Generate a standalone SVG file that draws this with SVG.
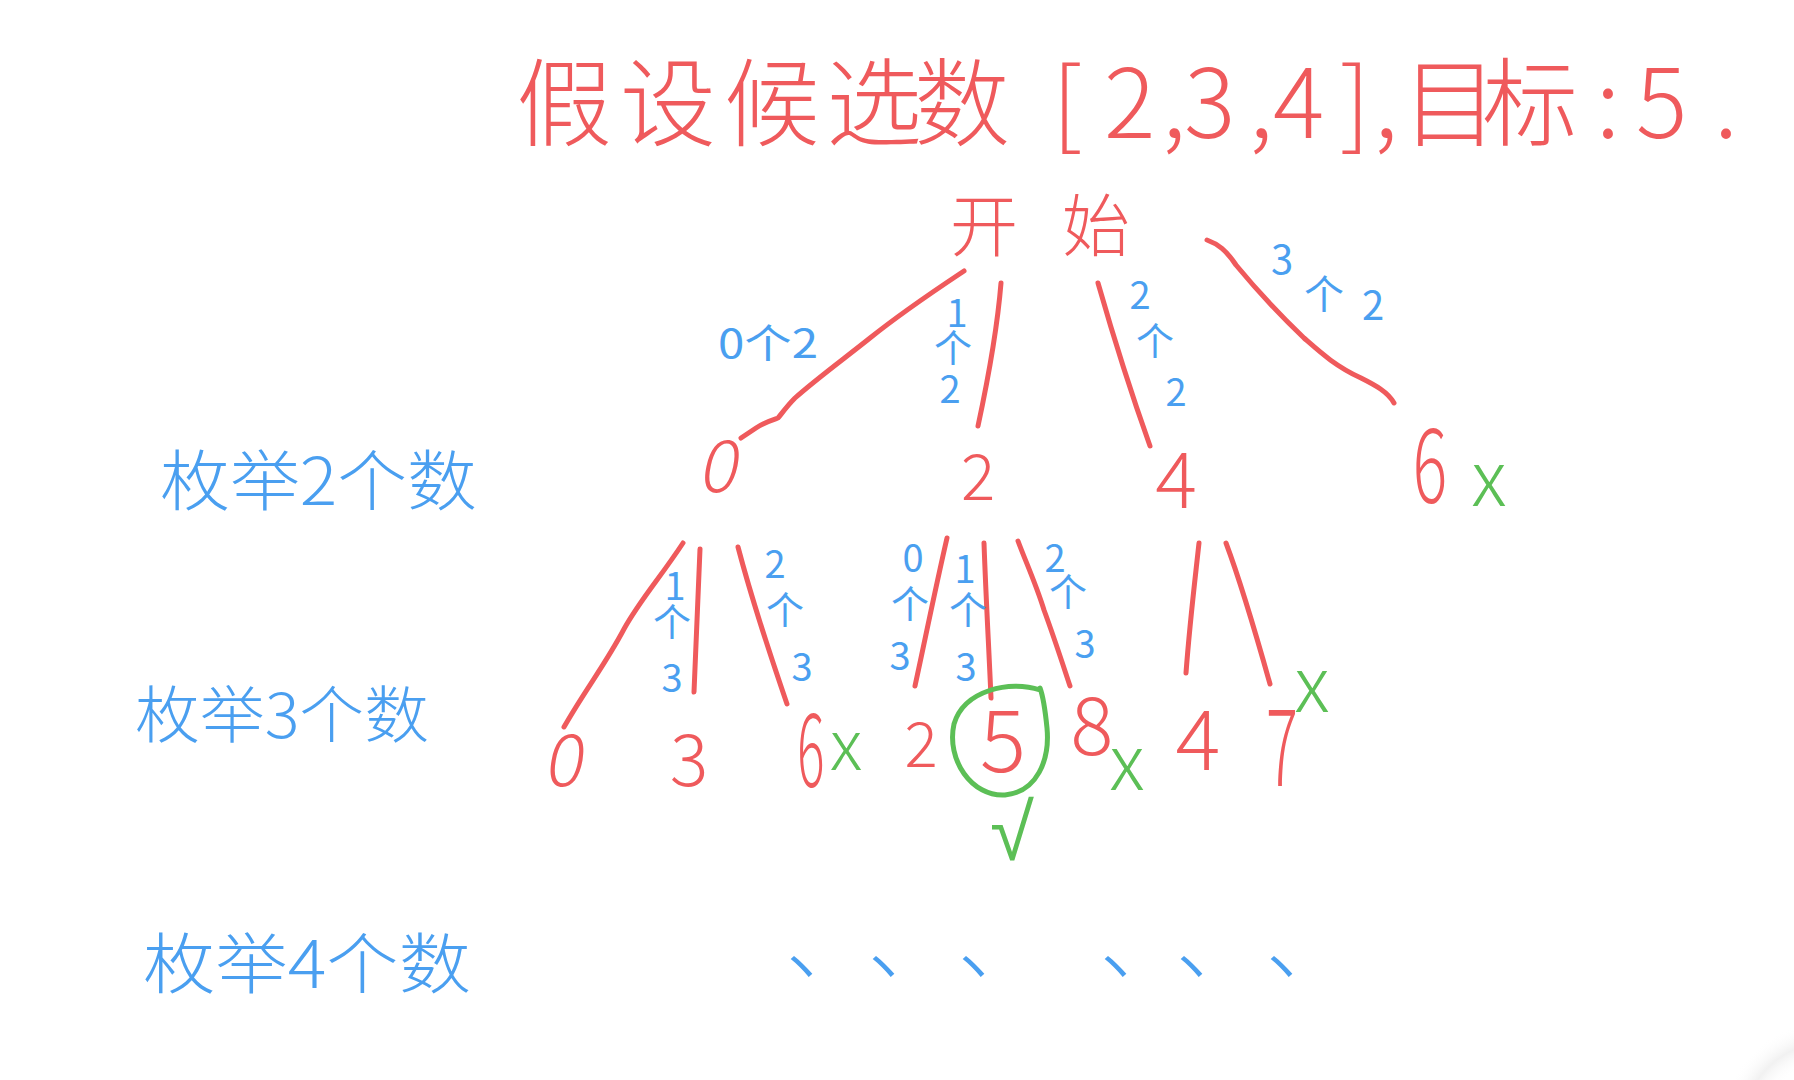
<svg xmlns="http://www.w3.org/2000/svg" width="1794" height="1080" viewBox="0 0 1794 1080">
<defs>
<style>
text{font-family:"Noto Sans CJK SC","Noto Sans",sans-serif;font-weight:300}
.r{fill:#ef5a5c}
.b{fill:#4a9ff0}
.g{fill:#5cbf56}
.el{text-anchor:middle;fill:#4a9ff0;font-weight:400}
.ln{fill:none;stroke:#ef5a5c;stroke-width:5;stroke-linecap:round;stroke-linejoin:round}
.gl{fill:none;stroke:#5cbf56;stroke-width:5;stroke-linecap:round;stroke-linejoin:round}
.n1{text-anchor:middle;fill:#ef5a5c}
.lv{fill:#4a9ff0}
.x{fill:#5cbf56;text-anchor:middle}
</style>
<radialGradient id="shade" cx="1830" cy="1130" r="110" gradientUnits="userSpaceOnUse">
<stop offset="0.6" stop-color="#ffffff" stop-opacity="0"/>
<stop offset="0.8" stop-color="#e8e8e8" stop-opacity="0.6"/>
<stop offset="1" stop-color="#ffffff" stop-opacity="0"/>
</radialGradient>
</defs>
<rect width="1794" height="1080" fill="#ffffff"/>
<rect x="1680" y="1000" width="114" height="80" fill="url(#shade)"/>

<g id="title">
<text class="r" font-size="96" x="516 620 724 826 914 1010 1052 1104 1162 1184 1249 1273 1340 1374 1402 1482 1596 1636 1714" y="138">假设候选数 [2,3,4],目标:5.</text>
</g>

<g id="level-labels">
<text id="lv2" class="lv" font-size="66" x="160" y="505" textLength="317" lengthAdjust="spacingAndGlyphs">枚举2个数</text>
<text id="lv3" class="lv" font-size="62" x="135" y="738" textLength="294" lengthAdjust="spacingAndGlyphs">枚举3个数</text>
<text id="lv4" class="lv" font-size="66" x="143" y="988" textLength="328" lengthAdjust="spacingAndGlyphs">枚举4个数</text>
</g>

<g id="connectors">
<path class="ln" d="M964,271 C940,287 905,310 870,338 C845,358 815,380 795,398 C786,407 780,416 778,418 C772,420 765,422 756,428 L741,438"/>
<path class="ln" d="M1001,283 C998,320 990,370 978,426"/>
<path class="ln" d="M1098,283 C1110,325 1130,390 1150,446"/>
<path class="ln" d="M1207,240 C1218,244 1226,250 1236,265 C1255,288 1280,315 1304,338 C1320,352 1335,366 1361,378 C1375,385 1388,392 1394,403"/>
<path class="ln" d="M683,543 C660,578 640,600 624,629 C605,665 585,690 564,727"/>
<path class="ln" d="M700,549 C698,600 696,650 694,692"/>
<path class="ln" d="M738,547 C748,585 765,640 787,704"/>
<path class="ln" d="M947,538 C935,590 925,640 915,686"/>
<path class="ln" d="M984,543 C986,600 989,650 991,698"/>
<path class="ln" d="M1018,541 C1025,560 1036,584 1044,610 C1055,640 1063,665 1070,686"/>
<path class="ln" d="M1199,543 C1195,580 1190,620 1186,673"/>
<path class="ln" d="M1226,543 C1238,575 1252,620 1270,684"/>

<g id="edge-labels" font-size="38">
<text class="el" x="768" y="358" font-size="40" textLength="100" lengthAdjust="spacingAndGlyphs">0个2</text>
<text class="el" x="957 953 950" y="327 362 403">1个2</text>
<text class="el" x="1140 1155 1176" y="309 355 406">2个2</text>
<text class="el" x="1282 1324 1373" y="274 309 320" font-size="40">3个2</text>
<text class="el" x="675 672 672" y="600 636 692">1个3</text>
<text class="el" x="775 785 802" y="578 624 681">2个3</text>
<text class="el" x="913 910 900" y="572 618 670">0个3</text>
<text class="el" x="965 968 966" y="583 624 681">1个3</text>
<text class="el" x="1055 1068 1085" y="572 606 658">2个3</text>
</g>
</g>

<g id="node-start">
<text class="r" font-size="68" x="950 1062" y="251">开始</text>
</g>

<g id="node-l1-0"><text class="n1" font-size="72" x="719" y="492" transform="skewX(-12) translate(102 0)">0</text></g>
<g id="node-l1-2"><text class="n1" font-size="64" x="978" y="500">2</text></g>
<g id="node-l1-4"><text class="n1" font-size="78" x="1176" y="508">4</text></g>
<g id="node-l1-6"><text class="n1" font-size="104" transform="translate(1430 503) scale(0.62 1)">6</text><text class="x" font-size="76" x="1489" y="506">x</text></g>

<g id="node-l2-0"><text class="n1" font-size="72" x="563" y="786" transform="skewX(-10) translate(138 0)">0</text></g>
<g id="node-l2-3"><text class="n1" font-size="72" x="689" y="786">3</text></g>
<g id="node-l2-6"><text class="n1" font-size="102" transform="translate(811 787) scale(0.5 1)">6</text><text class="x" font-size="70" x="846" y="770">x</text></g>
<g id="node-l2-2"><text class="n1" font-size="62" x="921" y="767">2</text></g>
<g id="node-l2-5"><text class="n1" font-size="86" x="1003" y="772">5</text>
<path class="gl" d="M1040,690 C1010,680 964,690 954,724 C946,760 972,797 1005,795 C1037,792 1050,760 1047,728 C1045,708 1043,696 1040,688"/>
<text class="g" font-size="80" x="990" y="860" style="font-family:'Liberation Sans',sans-serif">√</text></g>
<g id="node-l2-8"><text class="n1" font-size="80" x="1092" y="755">8</text><text class="x" font-size="76" x="1127" y="790">x</text></g>
<g id="node-l2-4"><text class="n1" font-size="84" x="1198" y="770">4</text></g>
<g id="node-l2-7"><text class="n1" font-size="108" transform="translate(1282 786) scale(0.55 1)">7</text><text class="x" font-size="76" x="1312" y="712">x</text></g>

<g id="ellipsis">
<text class="b" font-size="80" x="786 868 958 1100 1176 1266" y="972">、、、、、、</text>
</g>
</svg>
